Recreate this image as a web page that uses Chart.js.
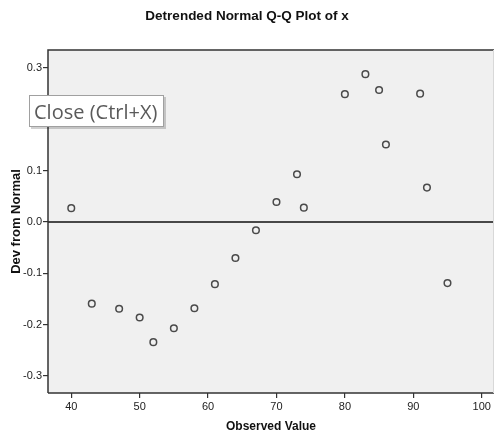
<!DOCTYPE html>
<html>
<head>
<meta charset="utf-8">
<script src="https://cdn.jsdelivr.net/npm/chart.js@4/dist/chart.umd.min.js"></script>
<style>
  html, body { margin: 0; padding: 0; background: #ffffff; }
  #wrap { width: 495px; height: 439px; position: relative; }
</style>
</head>
<body>
<div id="wrap"><canvas id="c" width="495" height="439"></canvas></div>
<script>
const chartTitle = "Detrended Normal Q-Q Plot of x";
const xAxisTitle = "Observed Value";
const yAxisTitle = "Dev from Normal";
const overlayText = "Close (Ctrl+X)";

const observed = [40, 43, 47, 50, 52, 55, 58, 61, 64, 67, 70, 73, 74, 80, 83, 85, 86, 91, 92, 95];
const devFromNormal = [0.027, -0.159, -0.169, -0.186, -0.234, -0.207, -0.168, -0.121, -0.070, -0.016,
                       0.039, 0.093, 0.028, 0.249, 0.288, 0.257, 0.151, 0.250, 0.067, -0.119];

const xTicks = [40, 50, 60, 70, 80, 90, 100];
const yTicks = [-0.3, -0.2, -0.1, 0.0, 0.1, 0.3];

const narrow = '"Liberation Sans Narrow", "Arial Narrow", "Liberation Sans", Arial, sans-serif';
const sans = '"Liberation Sans", Arial, sans-serif';

const points = observed.map((x, i) => ({ x: x, y: devFromNormal[i] }));

const bgPlugin = {
  id: 'plotBg',
  beforeDraw(chart) {
    const { ctx, chartArea: a } = chart;
    ctx.save();
    ctx.fillStyle = '#f0f0f0';
    ctx.fillRect(a.left, a.top, a.right - a.left, a.bottom - a.top);
    ctx.restore();
  },
  afterDatasetsDraw(chart) {
    const { ctx, chartArea: a, scales } = chart;
    const y0 = scales.y.getPixelForValue(0);
    ctx.save();
    ctx.strokeStyle = '#111';
    ctx.lineWidth = 1.5;
    ctx.beginPath();
    ctx.moveTo(a.left, y0);
    ctx.lineTo(a.right, y0);
    ctx.stroke();
    ctx.strokeStyle = '#333';
    ctx.lineWidth = 1.5;
    ctx.beginPath();
    ctx.moveTo(a.left, a.bottom);
    ctx.lineTo(a.left, a.top);
    ctx.lineTo(a.right, a.top);
    ctx.moveTo(a.left, a.bottom);
    ctx.lineTo(a.right, a.bottom);
    ctx.stroke();
    ctx.strokeStyle = '#d8d8d8';
    ctx.lineWidth = 1;
    ctx.beginPath();
    ctx.moveTo(a.right - 0.5, a.top);
    ctx.lineTo(a.right - 0.5, a.bottom);
    ctx.stroke();
    ctx.restore();
  },
  afterDraw(chart) {
    const { ctx } = chart;
    ctx.save();
    const bx = 29, by = 95, bw = 135, bh = 32;
    ctx.fillStyle = 'rgba(0,0,0,0.18)';
    ctx.fillRect(bx + 2, by + 2, bw, bh);
    ctx.fillStyle = '#ffffff';
    ctx.fillRect(bx, by, bw, bh);
    ctx.strokeStyle = '#a0a0a0';
    ctx.lineWidth = 1;
    ctx.strokeRect(bx + 0.5, by + 0.5, bw - 1, bh - 1);
    ctx.fillStyle = '#5a5a5a';
    ctx.font = '20px "Open Sans", "Noto Sans", sans-serif';
    ctx.textBaseline = 'alphabetic';
    ctx.textAlign = 'left';
    ctx.fillText(overlayText, 34, 119);
    ctx.restore();
  }
};

new Chart(document.getElementById('c'), {
  type: 'scatter',
  data: {
    datasets: [{
      data: points,
      pointStyle: 'circle',
      pointRadius: 3.3,
      pointBorderWidth: 1.5,
      pointBorderColor: '#4a4a4a',
      pointBackgroundColor: 'rgba(0,0,0,0)',
      pointHoverRadius: 3.3
    }]
  },
  options: {
    responsive: false,
    animation: false,
    events: [],
    layout: { autoPadding: false, padding: { left: 0, right: 1, top: 0, bottom: 0 } },
    plugins: {
      legend: { display: false },
      tooltip: { enabled: false },
      title: {
        display: true,
        text: chartTitle,
        color: '#111',
        font: { family: narrow, size: 13.5, weight: 'bold', lineHeight: 1.2 },
        padding: { top: 8, bottom: 25.8 }
      }
    },
    scales: {
      x: {
        type: 'linear',
        min: 36.6,
        max: 101.8,
        afterBuildTicks(scale) { scale.ticks = xTicks.map(v => ({ value: v })); },
        afterFit(scale) { scale.height = 46; scale.paddingRight = 0; scale.paddingLeft = 0; },
        grid: {
          display: true,
          drawOnChartArea: false,
          drawTicks: true,
          tickLength: 5,
          color: '#333',
          lineWidth: 1.2
        },
        border: { display: false },
        ticks: {
          autoSkip: false,
          maxRotation: 0,
          padding: 2,
          color: '#222',
          font: { family: narrow, size: 11 },
          callback: v => String(v)
        },
        title: {
          display: true,
          text: xAxisTitle,
          color: '#111',
          font: { family: sans, size: 12, weight: 'bold', lineHeight: 1.2 },
          padding: { top: 0, bottom: 5 }
        }
      },
      y: {
        type: 'linear',
        min: -0.333,
        max: 0.335,
        afterBuildTicks(scale) { scale.ticks = yTicks.map(v => ({ value: v })); },
        afterFit(scale) { scale.width = 48; scale.paddingTop = 0; scale.paddingBottom = 0; },
        grid: {
          display: true,
          drawOnChartArea: false,
          drawTicks: true,
          tickLength: 5,
          color: '#333',
          lineWidth: 1.2
        },
        border: { display: false },
        ticks: {
          autoSkip: false,
          padding: 1,
          color: '#222',
          font: { family: narrow, size: 11 },
          callback: v => v.toFixed(1)
        },
        title: {
          display: true,
          text: yAxisTitle,
          color: '#111',
          font: { family: sans, size: 13, weight: 'bold', lineHeight: 1.2 },
          padding: { top: 9, bottom: 0 }
        }
      }
    }
  },
  plugins: [bgPlugin]
});
</script>
</body>
</html>
